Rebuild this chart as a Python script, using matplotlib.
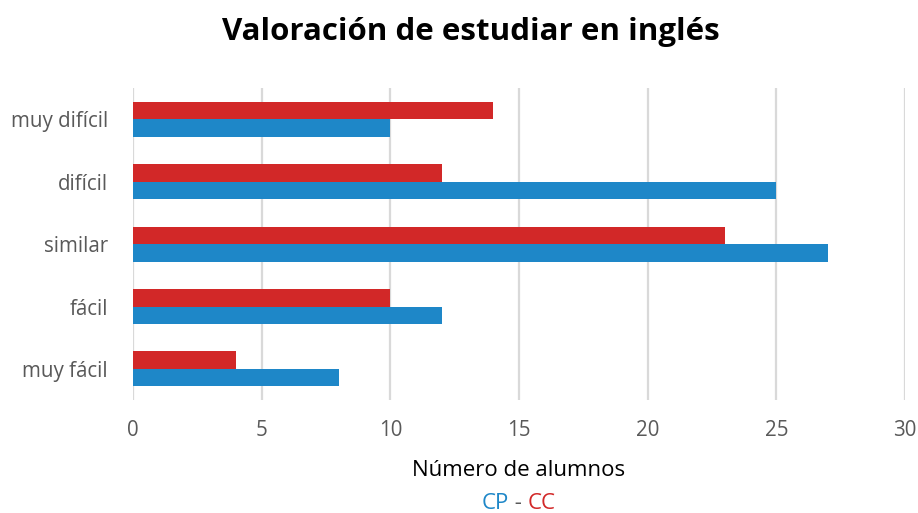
import numpy as np
import matplotlib.pyplot as plt

plt.rcParams['font.family'] = ['Open Sans', 'DejaVu Sans']

categories = ['muy difícil', 'difícil', 'similar', 'fácil', 'muy fácil']
cp_values = [10, 25, 27, 12, 8]
cc_values = [14, 12, 23, 10, 4]
x_ticks = [0, 5, 10, 15, 20, 25, 30]

blue = '#1E87C8'
red = '#D22828'
gray = '#595959'

fig = plt.figure(figsize=(9.18, 5.13), dpi=100)
ax = fig.add_axes([0.145, 0.22, 0.841, 0.608])

pos = np.arange(len(categories))
h = 0.28
ax.barh(pos - h / 2, cc_values, height=h, color=red, zorder=3)
ax.barh(pos + h / 2, cp_values, height=h, color=blue, zorder=3)

ax.set_ylim(len(categories) - 0.5, -0.5)
ax.set_xlim(0, 30)
ax.set_yticks(pos)
ax.set_yticklabels(categories, fontsize=14.8, color=gray)
ax.set_xticks(x_ticks)
ax.set_xticklabels([str(t) for t in x_ticks], fontsize=14.8, color=gray)
ax.tick_params(axis='x', length=0, pad=14)
ax.tick_params(axis='y', length=0, pad=18)
ax.xaxis.grid(True, color='#D9D9D9', linewidth=1.6, zorder=0)
for s in ax.spines.values():
    s.set_visible(False)

fig.text(0.513, 0.937, 'Valoración de estudiar en inglés', ha='center', va='center',
         fontsize=22.5, fontweight='bold', color='black')
fig.text(0.565, 0.083, 'Número de alumnos', ha='center', va='center', fontsize=16, color='black')

t1 = fig.text(0.565, 0.018, ' - ', ha='center', va='center', fontsize=16, color=gray)
ax.annotate('CP', xy=(0, 0.5), xycoords=t1, ha='right', va='center', fontsize=16, color=blue)
ax.annotate('CC', xy=(1, 0.5), xycoords=t1, ha='left', va='center', fontsize=16, color=red)

fig.savefig('out.png', dpi=100)
